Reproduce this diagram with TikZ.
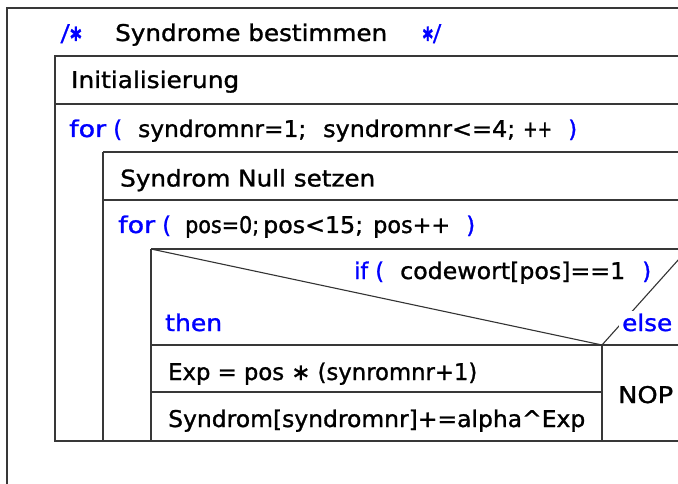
\documentclass[tikz,border=0pt]{standalone}
\usepackage{fontspec}
\usepackage{graphicx}
\setmainfont{DejaVu Sans}[FakeBold=1.2]
\newcommand\fw[2]{\resizebox{#1pt}{\height}{#2}}
\begin{document}
\begin{tikzpicture}[x=1pt,y=-1pt,
  frame/.style={line width=1.8pt,draw=black!78},
  diag/.style={line width=1.1pt,draw=black!80},
  txt/.style={anchor=base west,inner sep=0pt,font=\fontsize{23}{26}\selectfont,text=black},
  kw/.style={txt,text=blue},
  cmtxt/.style={txt,text=blue,font=\fontsize{23}{26}\selectfont\bfseries\itshape}]
\useasboundingbox (0,0) rectangle (678,484);
\fill[white] (0,0) rectangle (678,484);
\begin{scope}
\clip (0,0) rectangle (678,484);
% outer frame
\draw[frame] (7,500) -- (7,8) -- (700,8);
% for syndromnr block
\draw[frame] (700,56) -- (55,56) -- (55,441) -- (700,441);
\draw[frame] (55,104) -- (700,104);
\draw[frame] (103,152) -- (700,152);
\draw[frame] (103,152) -- (103,441);
\draw[frame] (103,200) -- (700,200);
\draw[frame] (151,249) -- (700,249);
\draw[frame] (151,249) -- (151,441);
\draw[frame] (151,345) -- (700,345);
\draw[frame] (602,345) -- (602,441);
\draw[frame] (151,392) -- (602,392);
% decision diagonals
\coordinate (dtl) at (151,249);
\coordinate (dmid) at (602,345);
\coordinate (dtr) at (688,249);
\draw[diag] (dtl) -- (dmid);
\draw[diag] (dmid) -- (dtr);
\end{scope}
% texts
\node[cmtxt] (c1) at (62,41) {\fw{21}{/∗}};
\node[txt] (title) at (115,41) {\fw{272}{Syndrome bestimmen}};
\node[cmtxt] (c2) at (421,41) {\fw{19}{∗/}};
\node[txt] (init) at (71,88) {\fw{168}{Initialisierung}};
\node[kw] (for1) at (69,137) {\fw{37}{for}};
\node[kw] (p1) at (113,137) {(};
\node[txt] (a1) at (138,137) {\fw{168}{syndromnr=1;}};
\node[txt] (b1) at (323,137) {\fw{192}{syndromnr<=4;}};
\node[txt] (c1b) at (523,137) {\fw{29}{++}};
\node[kw] (q1) at (568,137) {)};
\node[txt] (null) at (120,186.5) {\fw{255}{Syndrom Null setzen}};
\node[kw] (for2) at (118,233) {\fw{37}{for}};
\node[kw] (p2) at (162,233) {(};
\node[txt] (a2) at (185,233) {\fw{74}{pos=0;}};
\node[txt] (b2) at (263,233) {\fw{100}{pos<15;}};
\node[txt] (c2b) at (373,233) {\fw{77}{pos++}};
\node[kw] (q2) at (466,233) {)};
\node[kw] (if) at (354,279) {\fw{14}{if}};
\node[kw] (p3) at (375,279) {(};
\node[txt] (cond) at (400,279) {\fw{225}{codewort[pos]==1}};
\node[kw] (q3) at (642,279) {)};
\node[kw] (then) at (165,331) {\fw{57}{then}};
\node[kw,fill=white,inner sep=3pt] (else) at (619,331) {\fw{50}{else}};
\node[txt] (exp) at (168,380) {\fw{309}{Exp = pos ∗ (synromnr+1)}};
\node[txt] (syn) at (168,427) {\fw{417}{Syndrom[syndromnr]+=alpha\textasciicircum Exp}};
\node[txt] (nop) at (618,403) {\fw{55}{NOP}};
\end{tikzpicture}
\end{document}
